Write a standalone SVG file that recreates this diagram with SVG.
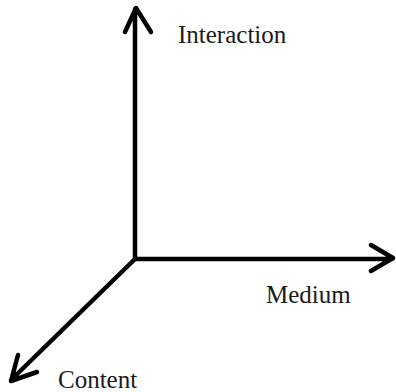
<svg xmlns="http://www.w3.org/2000/svg" width="396" height="392" viewBox="0 0 396 392">
<style>
.ax{fill:none;stroke:#000;stroke-width:4.5;stroke-linecap:round;stroke-linejoin:round}
.lbl{font-family:"Liberation Serif","Times New Roman",serif;font-size:25px;fill:#1a1a1a}
</style>
<rect width="396" height="392" fill="#fff"/>
<g id="connectors">
<path class="ax" d="M135,259 V9 M125,32 L136,8 L151,32"/>
<path class="ax" d="M135,259 H392 M371,245 L393,258 L371,271"/>
<path class="ax" d="M135,259 L11,380 M18,355 L11,381 L37,372"/>
</g>
<g id="interaction"><text class="lbl" x="178" y="43">Interaction</text></g>
<g id="medium"><text class="lbl" x="266" y="303">Medium</text></g>
<g id="content"><text class="lbl" x="58" y="388">Content</text></g>
</svg>
